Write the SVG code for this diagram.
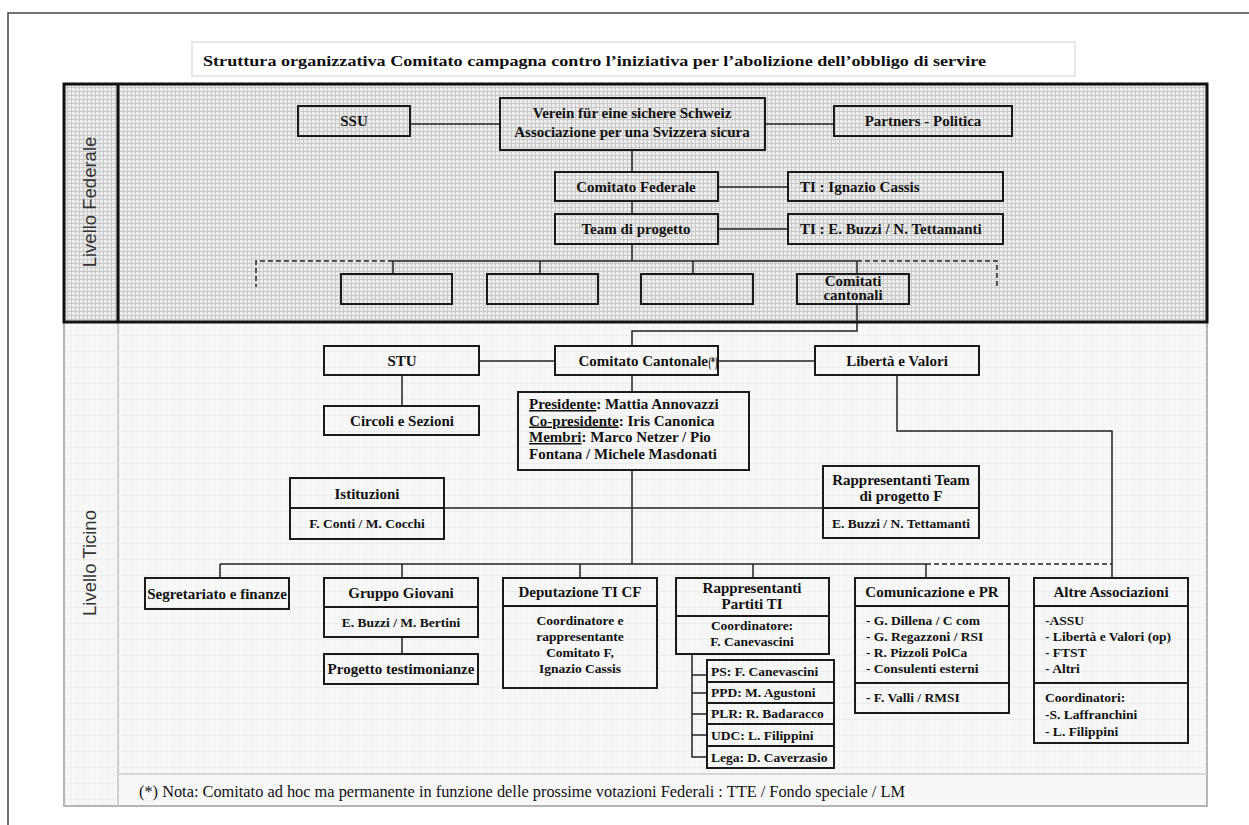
<svg xmlns="http://www.w3.org/2000/svg" width="1249" height="825" viewBox="0 0 1249 825">
<defs>
<pattern id="gridF" width="4" height="4" patternUnits="userSpaceOnUse"><rect width="4" height="4" fill="#ececec"/><path d="M3.5 0V4M0 3.5H4" stroke="#c9c9c9" stroke-width="1"/></pattern>
<pattern id="gridT" width="6" height="16" patternUnits="userSpaceOnUse"><rect width="6" height="16" fill="#f7f7f7"/><path d="M0 15.5H6" stroke="#ebebeb" stroke-width="1"/><path d="M5.5 0V16" stroke="#f1f1f1" stroke-width="1"/></pattern>
</defs>
<style>
.box{fill:none;stroke:#1a1a1a;stroke-width:2}
.t{font-family:"Liberation Serif","Times New Roman",serif;font-weight:bold;font-size:15px;fill:#111}
.s{font-size:13.5px}
.c{text-anchor:middle}
.conn{stroke:#222;stroke-width:1.5;fill:none}
.dash{stroke-dasharray:5 3}
.lbl{font-family:"Liberation Sans",Arial,sans-serif;font-size:18.5px;fill:#333;text-anchor:middle}
.u{text-decoration:underline}
</style>
<rect width="1249" height="825" fill="#ffffff"/>
<rect x="8" y="13" width="1400" height="1000" fill="none" stroke="#444" stroke-width="1.5"/>

<g id="title">
<rect x="192" y="42" width="883" height="34" fill="#fff" stroke="#cfcfcf" stroke-width="1"/>
<text class="t" x="203" y="66" font-size="18.5" textLength="783" lengthAdjust="spacingAndGlyphs">Struttura organizzativa Comitato campagna contro l’iniziativa per l’abolizione dell’obbligo di servire</text>
</g>

<g id="band-ticino">
<rect x="64" y="322" width="1143" height="484" fill="url(#gridT)" stroke="#b5b5b5" stroke-width="2"/>
<line x1="118" y1="322" x2="118" y2="806" stroke="#d0d0d0" stroke-width="2"/>
<line x1="118" y1="774" x2="1207" y2="774" stroke="#cccccc" stroke-width="1.5"/>
<rect x="119" y="775" width="1087" height="30" fill="#f7f7f7"/>
<text class="lbl" x="96" y="563" transform="rotate(-90 96 563)">Livello Ticino</text>
</g>

<g id="band-federale">
<rect x="64" y="84" width="1143" height="238" fill="url(#gridF)" stroke="#111" stroke-width="3"/>
<line x1="118" y1="84" x2="118" y2="322" stroke="#111" stroke-width="3"/>
<text class="lbl" x="96" y="202" transform="rotate(-90 96 202)">Livello Federale</text>
</g>

<g id="connectors">
<line class="conn" x1="410" y1="124" x2="500" y2="124"/>
<line class="conn" x1="765" y1="124" x2="834" y2="124"/>
<line class="conn" x1="632" y1="150" x2="632" y2="172"/>
<line class="conn" x1="718" y1="187" x2="788" y2="187"/>
<line class="conn" x1="632" y1="201" x2="632" y2="214"/>
<line class="conn" x1="718" y1="229" x2="788" y2="229"/>
<line class="conn" x1="632" y1="244" x2="632" y2="261"/>
<line class="conn" x1="393" y1="261" x2="857" y2="261"/>
<path class="conn dash" d="M393 261H256V287"/>
<path class="conn dash" d="M857 261H997V287"/>
<line class="conn" x1="393" y1="261" x2="393" y2="274"/>
<line class="conn" x1="540" y1="261" x2="540" y2="274"/>
<line class="conn" x1="693" y1="261" x2="693" y2="274"/>
<line class="conn" x1="857" y1="261" x2="857" y2="274"/>
<path class="conn" d="M857 304V331H632V346"/>
<line class="conn" x1="479" y1="361" x2="555" y2="361"/>
<line class="conn" x1="718" y1="361" x2="815" y2="361"/>
<line class="conn" x1="402" y1="375" x2="402" y2="406"/>
<line class="conn" x1="632" y1="375" x2="632" y2="392"/>
<line class="conn" x1="632" y1="470" x2="632" y2="564"/>
<line class="conn" x1="444" y1="508" x2="823" y2="508"/>
<path class="conn" d="M897 375V431H1112V578"/>
<line class="conn" x1="220" y1="564" x2="926" y2="564"/>
<line class="conn dash" x1="926" y1="564" x2="1112" y2="564"/>
<line class="conn" x1="220" y1="564" x2="220" y2="578"/>
<line class="conn" x1="402" y1="564" x2="402" y2="578"/>
<line class="conn" x1="580" y1="564" x2="580" y2="578"/>
<line class="conn" x1="753" y1="564" x2="753" y2="578"/>
<line class="conn" x1="926" y1="564" x2="926" y2="578"/>
<line class="conn" x1="402" y1="637" x2="402" y2="654"/>
<path class="conn" d="M692 654V757H707M692 675H707M692 693H707M692 714H707M692 735H707"/>
</g>

<g id="ssu"><rect class="box" x="298" y="106" width="112" height="30"/><text class="t c" x="354" y="126">SSU</text></g>
<g id="verein"><rect class="box" x="500" y="98" width="265" height="52"/><text class="t c" x="632" y="118">Verein für eine sichere Schweiz</text><text class="t c" x="632" y="137">Associazione per una Svizzera sicura</text></g>
<g id="partners"><rect class="box" x="834" y="106" width="178" height="30"/><text class="t c" x="923" y="126">Partners - Politica</text></g>
<g id="comitato-federale"><rect class="box" x="555" y="172" width="163" height="29"/><text class="t c" x="636" y="192">Comitato Federale</text></g>
<g id="ti-cassis"><rect class="box" x="788" y="172" width="215" height="29"/><text class="t" x="800" y="192">TI : Ignazio Cassis</text></g>
<g id="team-progetto"><rect class="box" x="555" y="214" width="163" height="30"/><text class="t c" x="636" y="234">Team di progetto</text></g>
<g id="ti-buzzi"><rect class="box" x="788" y="214" width="215" height="30"/><text class="t" x="800" y="234">TI : E. Buzzi / N. Tettamanti</text></g>
<g id="cant1"><rect class="box" x="341" y="274" width="111" height="30"/></g>
<g id="cant2"><rect class="box" x="487" y="274" width="111" height="30"/></g>
<g id="cant3"><rect class="box" x="641" y="274" width="112" height="30"/></g>
<g id="comitati-cantonali"><rect class="box" x="797" y="274" width="112" height="30"/><text class="t c" x="853" y="286" font-size="12">Comitati</text><text class="t c" x="853" y="300" font-size="12">cantonali</text></g>

<g id="stu"><rect class="box" x="324" y="346" width="155" height="29"/><text class="t c" x="402" y="366">STU</text></g>
<g id="comitato-cantonale"><rect class="box" x="555" y="346" width="163" height="29"/><text class="t" x="708" y="366" text-anchor="end">Comitato Cantonale</text><text class="t" x="708.5" y="367" font-size="9" textLength="9" lengthAdjust="spacingAndGlyphs">(*)</text></g>
<g id="liberta"><rect class="box" x="815" y="346" width="164" height="29"/><text class="t c" x="897" y="366">Libertà e Valori</text></g>
<g id="circoli"><rect class="box" x="324" y="406" width="155" height="29"/><text class="t c" x="402" y="426">Circoli e Sezioni</text></g>
<g id="presidenza"><rect class="box" x="518" y="392" width="231" height="78"/>
<text class="t" x="529" y="409"><tspan class="u">Presidente</tspan>: Mattia Annovazzi</text>
<text class="t" x="529" y="425.5"><tspan class="u">Co-presidente</tspan>: Iris Canonica</text>
<text class="t" x="529" y="442"><tspan class="u">Membri</tspan>: Marco Netzer / Pio</text>
<text class="t" x="529" y="458.5">Fontana / Michele Masdonati</text></g>
<g id="istituzioni"><rect class="box" x="290" y="478" width="154" height="61"/><line class="box" x1="290" y1="508" x2="444" y2="508"/><text class="t c" x="367" y="499">Istituzioni</text><text class="t c s" x="367" y="528">F. Conti / M. Cocchi</text></g>
<g id="rappr-team"><rect class="box" x="823" y="466" width="156" height="72"/><line class="box" x1="823" y1="508" x2="979" y2="508"/><text class="t c" x="901" y="485">Rappresentanti Team</text><text class="t c" x="901" y="501">di progetto F</text><text class="t c s" x="901" y="528">E. Buzzi / N. Tettamanti</text></g>

<g id="segretariato"><rect class="box" x="145" y="578" width="144" height="31"/><text class="t c" x="217" y="599">Segretariato e finanze</text></g>
<g id="gruppo-giovani"><rect class="box" x="324" y="578" width="154" height="59"/><line class="box" x1="324" y1="607" x2="478" y2="607"/><text class="t c" x="401" y="598">Gruppo Giovani</text><text class="t c s" x="401" y="627">E. Buzzi / M. Bertini</text></g>
<g id="testimonianze"><rect class="box" x="324" y="654" width="154" height="30"/><text class="t c" x="401" y="674">Progetto testimonianze</text></g>
<g id="deputazione"><rect class="box" x="503" y="578" width="154" height="110"/><line class="box" x1="503" y1="606" x2="657" y2="606"/><text class="t c" x="580" y="597">Deputazione TI CF</text>
<text class="t c s" x="580" y="625">Coordinatore e</text><text class="t c s" x="580" y="641">rappresentante</text><text class="t c s" x="580" y="657">Comitato F,</text><text class="t c s" x="580" y="673">Ignazio Cassis</text></g>
<g id="partiti"><rect class="box" x="676" y="578" width="153" height="76"/><line class="box" x1="676" y1="616" x2="829" y2="616"/><text class="t c" x="752" y="593">Rappresentanti</text><text class="t c" x="752" y="609">Partiti TI</text><text class="t c s" x="752" y="630">Coordinatore:</text><text class="t c s" x="752" y="646">F. Canevascini</text></g>
<g id="ps"><rect class="box" x="707" y="660" width="127" height="22"/><text class="t s" x="711" y="676">PS: F. Canevascini</text></g>
<g id="ppd"><rect class="box" x="707" y="682" width="127" height="21"/><text class="t s" x="711" y="697">PPD: M. Agustoni</text></g>
<g id="plr"><rect class="box" x="707" y="703" width="127" height="21"/><text class="t s" x="711" y="718">PLR: R. Badaracco</text></g>
<g id="udc"><rect class="box" x="707" y="724" width="127" height="22"/><text class="t s" x="711" y="740">UDC: L. Filippini</text></g>
<g id="lega"><rect class="box" x="707" y="746" width="127" height="22"/><text class="t s" x="711" y="762">Lega: D. Caverzasio</text></g>
<g id="comunicazione"><rect class="box" x="855" y="578" width="154" height="135"/><line class="box" x1="855" y1="606" x2="1009" y2="606"/><line class="box" x1="855" y1="683" x2="1009" y2="683"/><text class="t c" x="932" y="597">Comunicazione e PR</text>
<text class="t s" x="866" y="625">- G. Dillena / C com</text><text class="t s" x="866" y="641">- G. Regazzoni / RSI</text><text class="t s" x="866" y="657">- R. Pizzoli PolCa</text><text class="t s" x="866" y="673">- Consulenti esterni</text><text class="t s" x="866" y="702">- F. Valli / RMSI</text></g>
<g id="altre"><rect class="box" x="1034" y="578" width="154" height="165"/><line class="box" x1="1034" y1="606" x2="1188" y2="606"/><line class="box" x1="1034" y1="683" x2="1188" y2="683"/><text class="t c" x="1111" y="597">Altre Associazioni</text>
<text class="t s" x="1045" y="625">-ASSU</text><text class="t s" x="1045" y="641">- Libertà e Valori (op)</text><text class="t s" x="1045" y="657">- FTST</text><text class="t s" x="1045" y="673">- Altri</text>
<text class="t s" x="1045" y="702">Coordinatori:</text><text class="t s" x="1045" y="719">-S. Laffranchini</text><text class="t s" x="1045" y="736">- L. Filippini</text></g>

<g id="nota"><text x="139" y="797" font-family="'Liberation Serif','Times New Roman',serif" font-size="16.5" fill="#111" textLength="766" lengthAdjust="spacingAndGlyphs">(*) Nota: Comitato ad hoc ma permanente in funzione delle prossime votazioni Federali : TTE / Fondo speciale / LM</text></g>
</svg>
